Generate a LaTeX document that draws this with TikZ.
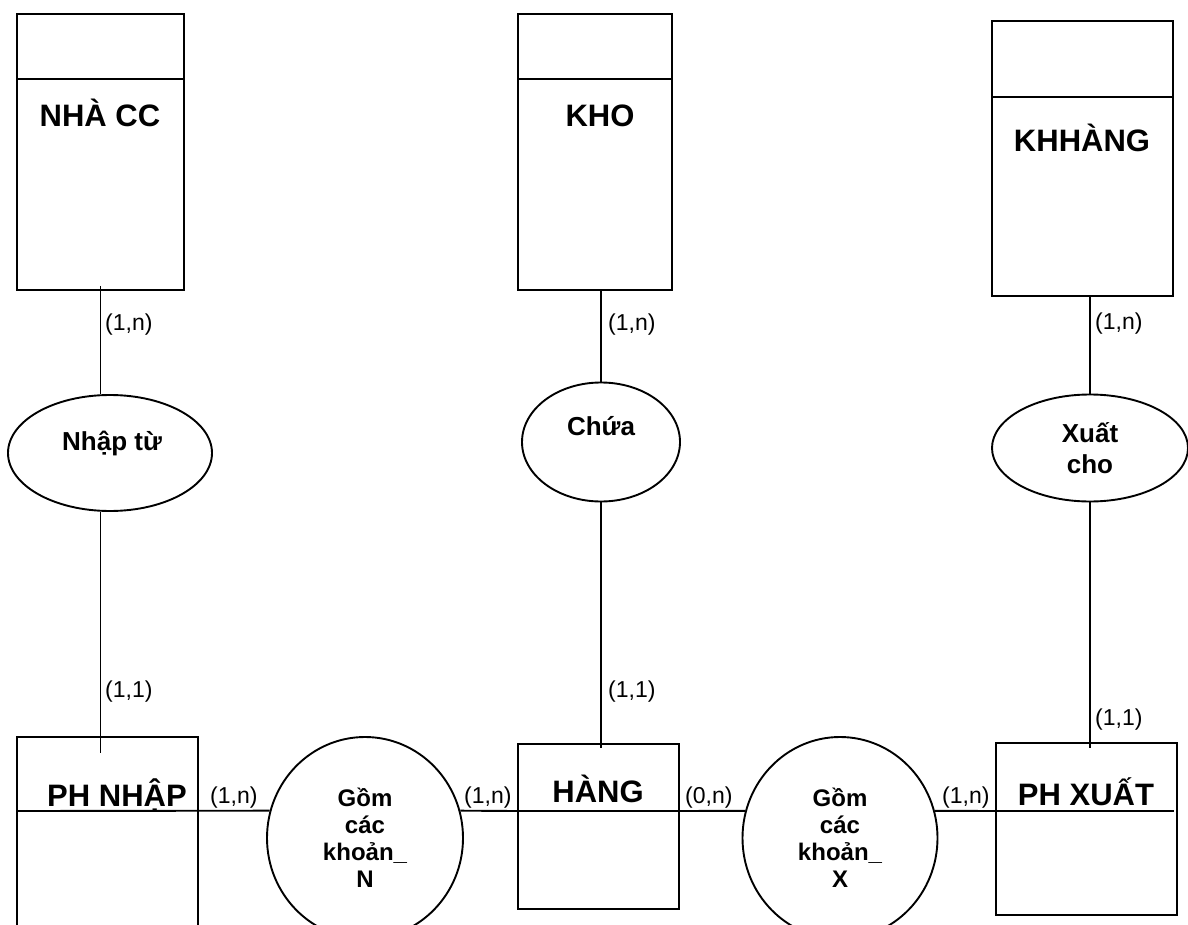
\documentclass[tikz,border=0pt]{standalone}
\usepackage{fontspec}
\setmainfont{Liberation Sans}
\usetikzlibrary{shapes.geometric,calc}

\begin{document}
\begin{tikzpicture}[x=1pt, y=-1pt,
    ent/.style={draw, line width=1.9pt, inner sep=0pt},
    rel/.style={ellipse, draw, line width=1.9pt, inner sep=0pt, align=center, font=\bfseries\fontsize{26}{31}\selectfont},
    circ/.style={rel, font=\bfseries\fontsize{24}{27}\selectfont},
    ename/.style={anchor=base, inner sep=0pt, font=\bfseries\fontsize{31}{37}\selectfont},
    rname/.style={anchor=base, inner sep=0pt, font=\bfseries\fontsize{26}{31}\selectfont},
    card/.style={anchor=base west, inner sep=0pt, font=\fontsize{23}{27}\selectfont},
    link/.style={line width=1.9pt}
  ]
  \useasboundingbox (0,0) rectangle (1188,925);
  \fill[white] (0,0) rectangle (1188,925);

  % entities
  \node[ent, minimum width=167pt, minimum height=276pt] (nhacc) at (100.5,152) {};
  \node[ent, minimum width=154pt, minimum height=276pt] (kho) at (595,152) {};
  \node[ent, minimum width=181pt, minimum height=275pt] (khhang) at (1082.5,158.5) {};
  \node[ent, minimum width=181pt, minimum height=203pt] (phnhap) at (107.5,838.5) {};
  \node[ent, minimum width=161pt, minimum height=165pt] (hang) at (598.5,826.5) {};
  \node[ent, minimum width=181pt, minimum height=172pt] (phxuat) at (1086.5,829) {};

  \node[ename] (nhacc-t) at (100,127) {NHÀ CC};
  \node[ename] (kho-t) at (600,127) {KHO};
  \node[ename] (khhang-t) at (1082,152) {KHHÀNG};
  \node[ename] (phnhap-t) at (117,806) {PH NHẬP};
  \node[ename] (hang-t) at (598,802) {HÀNG};
  \node[ename] (phxuat-t) at (1086,805) {PH XUẤT};

  % relationships
  \node[rel, minimum width=204pt, minimum height=116pt] (nhaptu) at (110,453) {};
  \node[rel, minimum width=158pt, minimum height=119pt] (chua) at (601,442) {};
  \node[rel, minimum width=196pt, minimum height=107pt] (xuatcho) at (1090,448) {Xuất\\cho};
  \node[circ, minimum width=196pt, minimum height=202pt] (gomn) at (365,838) {Gồm\\các\\khoản\_\\N};
  \node[circ, minimum width=195pt, minimum height=202pt] (gomx) at (840,838) {Gồm\\các\\khoản\_\\X};

  \node[rname] (nhaptu-t) at (112,450) {Nhập từ};
  \node[rname] (chua-t) at (601,435) {Chứa};

  % dividers
  \draw[link] (nhacc.west |- 0,79) -- (nhacc.east |- 0,79);
  \draw[link] (kho.west |- 0,79) -- (kho.east |- 0,79);
  \draw[link] (khhang.west |- 0,97) -- (khhang.east |- 0,97);

  % links
  \coordinate (axis) at (0,811);
  \draw[link] ($(nhacc.south)+(0,-5)$) -- (nhacc.south |- nhaptu.north);
  \draw[link] (nhacc.south |- nhaptu.south) -- ($(nhacc.south |- phnhap.north)+(0,17)$);
  \draw[link] (kho.south -| chua.north) -- (chua.north);
  \draw[link] (chua.south) -- ($(chua.south |- hang.north)+(0,5)$);
  \draw[link] (khhang.south -| xuatcho.north) -- (xuatcho.north);
  \draw[link] (xuatcho.south) -- ($(xuatcho.south |- phxuat.north)+(0,6)$);

  \draw[link] (phnhap.west |- axis) -- (gomn.164);
  \draw[link] (gomn.16) -- (hang.west |- axis) -- (hang.east |- axis) -- (gomx.164);
  \draw[link] (gomx.16) -- (phxuat.west |- axis) -- ($(phxuat.east |- axis)+(-4,0)$);

  % cardinalities
  \node[card] (c1) at (105,330) {(1,n)};
  \node[card] (c2) at (608,330) {(1,n)};
  \node[card] (c3) at (1095,329) {(1,n)};
  \node[card] (c4) at (105,697) {(1,1)};
  \node[card] (c5) at (608,697) {(1,1)};
  \node[card] (c6) at (1095,725) {(1,1)};
  \node[card] (c7) at (210,803) {(1,n)};
  \node[card] (c8) at (464,803) {(1,n)};
  \node[card] (c9) at (685,803) {(0,n)};
  \node[card] (c10) at (942,803) {(1,n)};
\end{tikzpicture}
\end{document}
